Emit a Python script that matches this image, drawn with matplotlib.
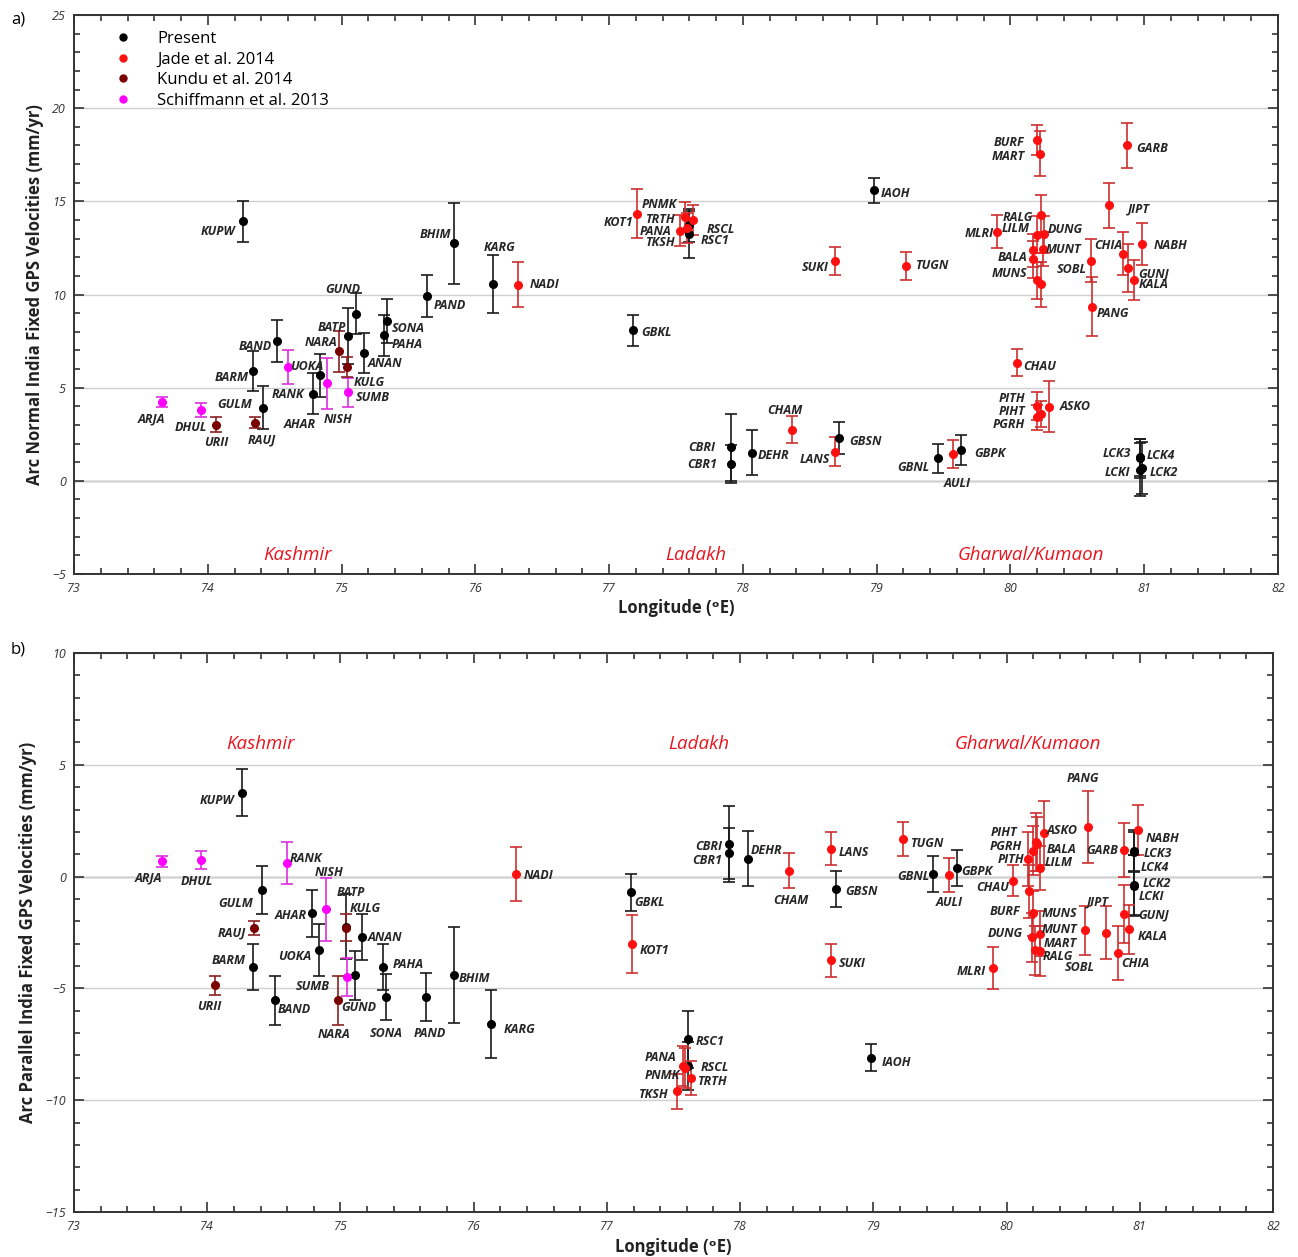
import numpy as np
import matplotlib.pyplot as plt
from matplotlib.lines import Line2D
from matplotlib.ticker import MultipleLocator

plt.rcParams['font.family'] = ['Open Sans', 'DejaVu Sans']

# station sources (anything not listed = present study)
jade = ['NADI', 'KOT1', 'PNMK', 'TRTH', 'PANA', 'TKSH', 'SUKI', 'CHAM', 'LANS', 'TUGN',
        'BURF', 'MART', 'GARB', 'JIPT', 'MLRI', 'RALG', 'LILM', 'DUNG', 'MUNT', 'BALA',
        'MUNS', '', 'SOBL', 'PANG', 'CHIA', 'NABH', 'GUNJ', 'KALA', 'CHAU', 'PITH',
        'PIHT', 'PGRH', 'ASKO', 'AULI']
kundu = ['URII', 'RAUJ', 'NARA', 'KULG']
schiff = ['ARJA', 'DHUL', 'RANK', 'NISH', 'SUMB']

# ---- a) arc normal ----
a_names = ['KUPW', 'ARJA', 'DHUL', 'URII', 'RAUJ', 'BARM', 'GULM', 'BAND',
           'RANK', 'AHAR', 'UOKA', 'NISH', 'NARA', 'BATP', 'KULG', 'SUMB',
           'GUND', 'ANAN', 'SONA', 'PAHA', 'PAND', 'BHIM', 'KARG', 'NADI',
           'GBKL', 'KOT1', 'PNMK', 'TRTH', 'PANA', 'TKSH', 'RSCL', 'RSC1',
           'SUKI', 'IAOH', 'CHAM', 'CBRI', 'CBR1', 'DEHR', 'GBSN', 'LANS',
           'TUGN', 'BURF', 'MART', 'GARB', 'JIPT', 'MLRI', 'RALG', 'LILM',
           'DUNG', 'MUNT', 'BALA', 'MUNS', '', '', 'SOBL', 'PANG',
           'CHIA', 'NABH', 'GUNJ', 'KALA', 'CHAU', 'PITH', 'PIHT', 'PGRH',
           'ASKO', 'GBNL', 'AULI', 'GBPK', 'LCK3', 'LCK4', 'LCKI', 'LCK2']
a_lon = [74.26, 73.66, 73.95, 74.06, 74.35, 74.34, 74.41, 74.52,
         74.60, 74.79, 74.84, 74.89, 74.98, 75.05, 75.04, 75.05,
         75.11, 75.17, 75.34, 75.32, 75.64, 75.84, 76.13, 76.32,
         77.18, 77.21, 77.57, 77.63, 77.53, 77.58, 77.60, 77.60,
         78.69, 78.98, 78.37, 77.91, 77.91, 78.07, 78.72, 78.69,
         79.22, 80.20, 80.22, 80.87, 80.74, 79.90, 80.23, 80.20,
         80.25, 80.24, 80.17, 80.17, 80.20, 80.23, 80.60, 80.61,
         80.84, 80.98, 80.88, 80.92, 80.05, 80.20, 80.23, 80.20,
         80.29, 79.46, 79.57, 79.63, 80.97, 80.97, 80.97, 80.98]
a_vel = [13.94, 4.25, 3.80, 3.00, 3.12, 5.91, 3.93, 7.50,
         6.09, 4.68, 5.66, 5.23, 6.95, 7.77, 6.09, 4.75,
         8.98, 6.87, 8.59, 7.80, 9.91, 12.75, 10.57, 10.53,
         8.07, 14.34, 14.16, 13.98, 13.43, 13.57, 13.71, 13.23,
         11.82, 15.59, 2.75, 1.79, 0.91, 1.52, 2.32, 1.57,
         11.52, 18.30, 17.55, 18.00, 14.78, 13.37, 14.25, 13.21,
         13.23, 12.44, 12.37, 11.89, 10.77, 10.54, 11.82, 9.34,
         12.19, 12.73, 11.44, 10.77, 6.34, 4.02, 3.57, 3.41,
         3.98, 1.21, 1.45, 1.66, 1.27, 1.22, 0.59, 0.68]
a_err = [1.10, 0.27, 0.37, 0.40, 0.30, 1.07, 1.14, 1.13,
         0.92, 1.10, 1.16, 1.37, 1.10, 1.49, 0.54, 0.79,
         1.09, 1.07, 1.18, 1.08, 1.12, 2.16, 1.54, 1.20,
         0.83, 1.30, 0.80, 0.80, 0.83, 0.80, 0.90, 1.27,
         0.75, 0.66, 0.74, 1.80, 1.00, 1.23, 0.86, 0.76,
         0.74, 0.82, 1.21, 1.20, 1.20, 0.90, 1.10, 1.00,
         1.00, 0.90, 0.90, 1.00, 1.00, 1.20, 1.15, 1.59,
         1.15, 1.12, 1.28, 1.07, 0.71, 0.73, 0.70, 0.68,
         1.38, 0.79, 0.75, 0.80, 1.00, 1.05, 1.43, 1.38]

# ---- b) arc parallel ----
b_names = ['KUPW', 'ARJA', 'DHUL', 'RANK', 'GULM', 'NISH', 'AHAR', 'RAUJ',
           'BATP', 'KULG', 'ANAN', 'UOKA', 'BARM', 'SUMB', 'GUND', 'URII',
           'BAND', 'NARA', 'NADI', 'PAHA', 'SONA', 'PAND', 'BHIM', 'KARG',
           'CBRI', 'CBR1', 'DEHR', 'CHAM', 'LANS', 'GBSN', 'GBKL', 'KOT1',
           'SUKI', 'RSC1', 'PANA', 'PNMK', 'RSCL', 'TRTH', 'TKSH', 'IAOH',
           'TUGN', 'GBNL', 'AULI', 'GBPK', 'CHAU', 'PANG', 'GARB', 'NABH',
           'LCK3', 'LCK4', 'LCK2', 'LCKI', 'ASKO', 'PIHT', 'BALA', 'PGRH',
           'PITH', 'LILM', 'BURF', 'MUNS', 'DUNG', 'MUNT', 'MART', 'RALG',
           'MLRI', 'SOBL', 'JIPT', 'CHIA', 'GUNJ', 'KALA']
b_lon = [74.26, 73.66, 73.95, 74.60, 74.41, 74.89, 74.79, 74.35,
         75.04, 75.04, 75.16, 74.84, 74.34, 75.05, 75.11, 74.06,
         74.51, 74.98, 76.32, 75.32, 75.34, 75.64, 75.85, 76.13,
         77.92, 77.92, 78.06, 78.37, 78.68, 78.72, 77.18, 77.19,
         78.68, 77.61, 77.57, 77.59, 77.61, 77.63, 77.53, 78.98,
         79.22, 79.45, 79.57, 79.63, 80.05, 80.61, 80.88, 80.99,
         80.96, 80.96, 80.96, 80.96, 80.28, 80.22, 80.23, 80.20,
         80.16, 80.25, 80.17, 80.20, 80.19, 80.25, 80.21, 80.25,
         79.90, 80.59, 80.75, 80.84, 80.88, 80.92]
b_vel = [3.76, 0.68, 0.74, 0.60, -0.60, -1.47, -1.64, -2.29,
         -2.25, -2.29, -2.71, -3.28, -4.05, -4.49, -4.42, -4.87,
         -5.54, -5.54, 0.12, -4.05, -5.39, -5.39, -4.40, -6.58,
         1.46, 1.04, 0.79, 0.27, 1.25, -0.55, -0.70, -3.01,
         -3.75, -7.28, -8.47, -8.55, -8.48, -9.00, -9.60, -8.10,
         1.67, 0.12, 0.08, 0.39, -0.18, 2.23, 1.19, 2.08,
         1.16, 1.10, -0.40, -0.38, 1.93, 1.53, 1.46, 1.16,
         0.79, 0.39, -0.66, -1.64, -2.71, -2.56, -3.30, -3.33,
         -4.09, -2.41, -2.51, -3.42, -1.68, -2.35]
b_err = [1.06, 0.26, 0.42, 0.93, 1.09, 1.41, 1.04, 0.31,
         1.45, 0.61, 1.04, 1.15, 1.04, 0.83, 1.08, 0.41,
         1.09, 1.11, 1.21, 1.04, 1.02, 1.09, 2.13, 1.52,
         1.71, 1.15, 1.23, 0.78, 0.73, 0.82, 0.82, 1.30,
         0.75, 1.27, 0.90, 0.90, 1.07, 0.75, 0.78, 0.61,
         0.75, 0.79, 0.76, 0.80, 0.69, 1.60, 1.21, 1.13,
         0.93, 0.90, 1.38, 1.35, 1.43, 1.30, 1.20, 1.10,
         1.20, 1.00, 1.20, 1.00, 1.10, 1.00, 1.10, 1.10,
         0.94, 1.10, 1.18, 1.19, 1.30, 1.10]

# label offsets in pixels (dx right, dy down) from the marker
a_offs = {'KUPW': (-25, 10), 'ARJA': (-11, 17), 'DHUL': (-10, 17), 'URII': (0, 18),
          'RAUJ': (7, 17), 'BARM': (-22, 7), 'GULM': (-28, -3), 'BAND': (-22, 5),
          'RANK': (0, 27), 'AHAR': (-14, 31), 'UOKA': (-13, -9), 'NISH': (11, 36),
          'NARA': (-18, -9), 'BATP': (-16, -9), 'KULG': (22, 15), 'SUMB': (25, 5),
          'GUND': (-13, -24), 'ANAN': (21, 11), 'SONA': (21, 8), 'PAHA': (23, 9),
          'PAND': (23, 9), 'BHIM': (-19, -9), 'KARG': (7, -36), 'NADI': (26, 0),
          'GBKL': (23, 2), 'KOT1': (-19, 9), 'PNMK': (-26, -12), 'TRTH': (-33, -1),
          'PANA': (-24, 1), 'TKSH': (-26, 15), 'RSCL': (31, 4), 'RSC1': (26, 6),
          'SUKI': (-20, 7), 'IAOH': (21, 3), 'CHAM': (-8, -19), 'CBRI': (-29, 0),
          'CBR1': (-29, 1), 'DEHR': (21, 3), 'GBSN': (26, 4), 'LANS': (-20, 8),
          'TUGN': (26, -1), 'BURF': (-28, 3), 'MART': (-32, 3), 'GARB': (25, 3),
          'JIPT': (30, 4), 'MLRI': (-18, 2), 'RALG': (-23, 2), 'LILM': (-22, -6),
          'DUNG': (21, -5), 'MUNT': (21, 0), 'BALA': (-21, 7), 'MUNS': (-24, 14),
          'SOBL': (-19, 9), 'PANG': (21, 7), 'CHIA': (-14, -8), 'NABH': (29, 2),
          'GUNJ': (25, 6), 'KALA': (20, 4), 'CHAU': (23, 4), 'PITH': (-25, -7),
          'PIHT': (-29, -3), 'PGRH': (-28, 7), 'ASKO': (26, 0), 'GBNL': (-25, 9),
          'AULI': (4, 30), 'GBPK': (29, 4), 'LCK3': (-23, -4), 'LCK4': (21, -3),
          'LCKI': (-23, 3), 'LCK2': (22, 4)}
b_offs = {'KUPW': (-25, 8), 'ARJA': (-13, 17), 'DHUL': (-4, 21), 'RANK': (19, -5),
          'GULM': (-26, 13), 'NISH': (3, -37), 'AHAR': (-22, 2), 'RAUJ': (-22, 5),
          'BATP': (5, -34), 'KULG': (19, -19), 'ANAN': (23, 0), 'UOKA': (-24, 7),
          'BARM': (-24, -7), 'SUMB': (-34, 10), 'GUND': (4, 32), 'URII': (-6, 21),
          'BAND': (19, 9), 'NARA': (-4, 34), 'NADI': (22, 2), 'PAHA': (25, -3),
          'SONA': (1, 36), 'PAND': (4, 36), 'BHIM': (21, 4), 'KARG': (29, 6),
          'CBRI': (-21, 3), 'CBR1': (-22, 7), 'DEHR': (18, -8), 'CHAM': (1, 30),
          'LANS': (23, 4), 'GBSN': (25, 3), 'GBKL': (19, 10), 'KOT1': (22, 7),
          'SUKI': (21, 3), 'RSC1': (22, 2), 'PANA': (-22, -8), 'PNMK': (-23, 8),
          'RSCL': (27, 1), 'TRTH': (22, 4), 'TKSH': (-24, 3), 'IAOH': (26, 5),
          'TUGN': (25, 4), 'GBNL': (-20, 3), 'AULI': (0, 28), 'GBPK': (20, 4),
          'CHAU': (-21, 7), 'PANG': (-5, -48), 'GARB': (-22, 1), 'NABH': (24, 8),
          'LCK3': (23, 3), 'LCK4': (20, 15), 'LCK2': (22, -2), 'LCKI': (17, 11),
          'ASKO': (18, -3), 'PIHT': (-32, -10), 'BALA': (24, 6), 'PGRH': (-27, -4),
          'PITH': (-17, 1), 'LILM': (19, -5), 'BURF': (-24, 20), 'MUNS': (26, 0),
          'DUNG': (-27, -4), 'MUNT': (20, -4), 'MART': (26, -7), 'RALG': (18, 5),
          'MLRI': (-22, 3), 'SOBL': (-5, 37), 'JIPT': (-9, -31), 'CHIA': (17, 10),
          'GUNJ': (30, 1), 'KALA': (23, 7)}

regions = ['Kashmir', 'Ladakh', 'Gharwal/Kumaon']
a_region_x = [74.67, 77.65, 80.15]
b_region_x = [74.40, 77.69, 80.16]

mk_col = {'P': 'black', 'J': '#ff1010', 'K': '#7a0000', 'S': '#ff00ff'}
bar_col = {'P': '#1a1a1a', 'J': '#cc3030', 'K': '#8b2020', 'S': '#dd30dd'}
leg_txt = {'P': 'Present', 'J': 'Jade et al. 2014', 'K': 'Kundu et al. 2014',
           'S': 'Schiffmann et al. 2013'}


def source(n):
    if n in kundu:
        return 'K'
    if n in schiff:
        return 'S'
    if n in jade:
        return 'J'
    return 'P'


def draw(ax, names, lon, vel, err, offs):
    src = np.array([source(n) for n in names])
    lon, vel, err = np.array(lon), np.array(vel), np.array(err)
    for code in 'PSKJ':
        m = src == code
        ax.errorbar(lon[m], vel[m], yerr=err[m], fmt='o', ms=5.5, mfc=mk_col[code],
                    mec=mk_col[code], ecolor=bar_col[code], elinewidth=1.2,
                    capsize=4, capthick=1.2, zorder=3)
    for i, n in enumerate(names):
        if not n:
            continue
        dx, dy = offs.get(n, (22, 0))
        ax.annotate(n, (lon[i], vel[i]), xytext=(dx, -dy), textcoords='offset pixels',
                    ha='center', va='center', fontsize=9, style='italic',
                    weight='bold', color='#262626', zorder=4)


def style(ax, ylo, yhi, ylabel):
    ax.set_xlim(73, 82)
    ax.set_ylim(ylo, yhi)
    ax.set_xticks(range(73, 83))
    ax.set_xticklabels([str(v) for v in range(73, 83)], style='italic', fontsize=9,
                       color='#333333')
    yt = list(range(ylo, yhi + 1, 5))
    ax.set_yticks(yt)
    ax.set_yticklabels([str(v).replace('-', '\u2212') for v in yt], style='italic',
                       fontsize=9, color='#333333')
    ax.xaxis.set_minor_locator(MultipleLocator(0.2))
    ax.yaxis.set_minor_locator(MultipleLocator(1))
    ax.tick_params(which='both', direction='in', top=True, right=True, color='#333333',
                   width=1.2)
    ax.tick_params(which='major', length=7, pad=6)
    ax.tick_params(which='minor', length=4)
    for s in ax.spines.values():
        s.set_color('#333333')
        s.set_linewidth(1.4)
    ax.yaxis.grid(True, which='major', color='#d0d0d0', lw=1.0, zorder=0)
    ax.axhline(0, color='#444444', lw=0.9, zorder=1)
    ax.set_xlabel('Longitude (\u1d52E)', fontsize=12, weight='bold', color='#222222',
                  labelpad=3)
    ax.set_ylabel(ylabel, fontsize=12, weight='bold', color='#222222', labelpad=6)


fig = plt.figure(figsize=(12.98, 12.57), dpi=100)
W, H = 1298, 1257
ax1 = fig.add_axes([74 / W, 1 - 574 / H, (1278 - 74) / W, (574 - 15) / H])
ax2 = fig.add_axes([74 / W, 1 - 1212 / H, (1273 - 74) / W, (1212 - 653) / H])

draw(ax1, a_names, a_lon, a_vel, a_err, a_offs)
style(ax1, -5, 25, 'Arc Normal India Fixed GPS Velocities (mm/yr)')
draw(ax2, b_names, b_lon, b_vel, b_err, b_offs)
style(ax2, -15, 10, 'Arc Parallel India Fixed GPS Velocities (mm/yr)')

for ax, xs, yv in [(ax1, a_region_x, -4.0), (ax2, b_region_x, 5.95)]:
    for r, x in zip(regions, xs):
        ax.text(x, yv, r, color='#e8141e', style='italic', fontsize=13.5, ha='center',
                va='center')

handles = [Line2D([], [], ls='', marker='o', ms=5, color=mk_col[c]) for c in 'PJKS']
ax1.legend(handles, [leg_txt[c] for c in 'PJKS'], loc='upper left',
           bbox_to_anchor=(0.034, 0.971), frameon=False, fontsize=12,
           handlelength=1.0, handletextpad=1.55, labelspacing=0.27, borderpad=0,
           borderaxespad=0)

fig.text(18 / W, 1 - 20 / H, 'a)', fontsize=12, ha='center', va='center')
fig.text(18 / W, 1 - 650 / H, 'b)', fontsize=12, ha='center', va='center')

fig.savefig('out.png', dpi=100, facecolor='white')
